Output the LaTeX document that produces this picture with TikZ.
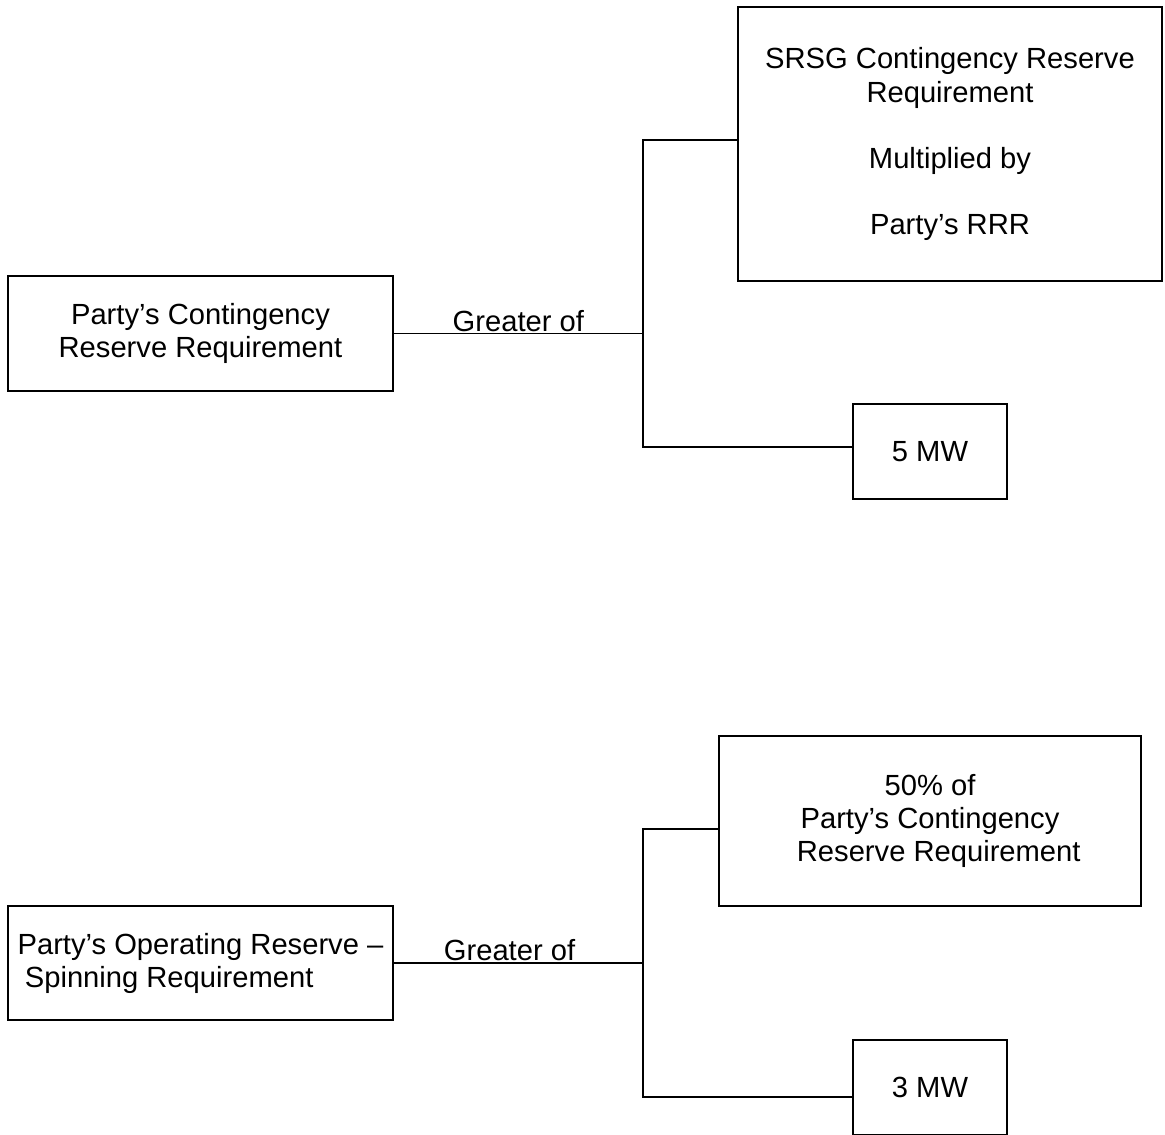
\documentclass[tikz,border=0pt]{standalone}
\usepackage{fontspec}
\setmainfont{Liberation Sans}
\usetikzlibrary{calc}

\begin{document}
\begin{tikzpicture} [x=0.02cm, y=-0.02cm,
					box/.style = {draw,
					    rectangle,
					    line width=1pt,
					    align=center,
					    inner sep=0pt,
					    font=\fontsize{16.6}{18.8}\selectfont},
					wide/.style = {minimum width=7.7cm, minimum height=2.29cm},
					small/.style = {minimum width=3.08cm, minimum height=1.9cm},
					link/.style = {line width=1pt},
					gtr/.style = {above, inner sep=0.5pt, font=\fontsize{16.6}{18.8}\selectfont}]
					
					\useasboundingbox (0,0) rectangle (1165,1134);
					
					\node (crr) at (200.5,333.5) [box, wide] {Party’s Contingency\\Reserve Requirement};
					\node (srsg) at (950,144) [box, minimum width=8.48cm, minimum height=5.48cm]
					    {SRSG Contingency Reserve\\Requirement\\[18.8pt]Multiplied by\\[18.8pt]Party’s RRR};
					\node (mw5) at (930,451.5) [box, small] {5 MW};
					
					\node (orsr) at (200.5,963) [box, wide, align=left] {Party’s Operating Reserve –\\\hspace*{0.25em}Spinning Requirement};
					\node (half) at (930,821) [box, minimum width=8.44cm, minimum height=3.4cm]
					    {50\% of\\Party’s Contingency\\\hspace*{0.6em}Reserve Requirement};
					\node (mw3) at (930,1087.5) [box, small] {3 MW};
					
					\coordinate (ja) at ($(crr.east)+(249,0)$);
					\coordinate (jb) at ($(orsr.east)+(249,0)$);
					
					\draw [link] (crr.east) -- node [gtr] {Greater of} (ja);
					\draw [link] ($(srsg.west)+(0,-4)$) -| (ja) |- ($(mw5.west)+(0,-4.5)$);
					
					\draw [link] (orsr.east) -- node [gtr, xshift=-5pt] {Greater of} (jb);
					\draw [link] ($(half.west)+(0,8)$) -| (jb) |- ($(mw3.west)+(0,9.5)$);
					
				\end{tikzpicture}
\end{document}
